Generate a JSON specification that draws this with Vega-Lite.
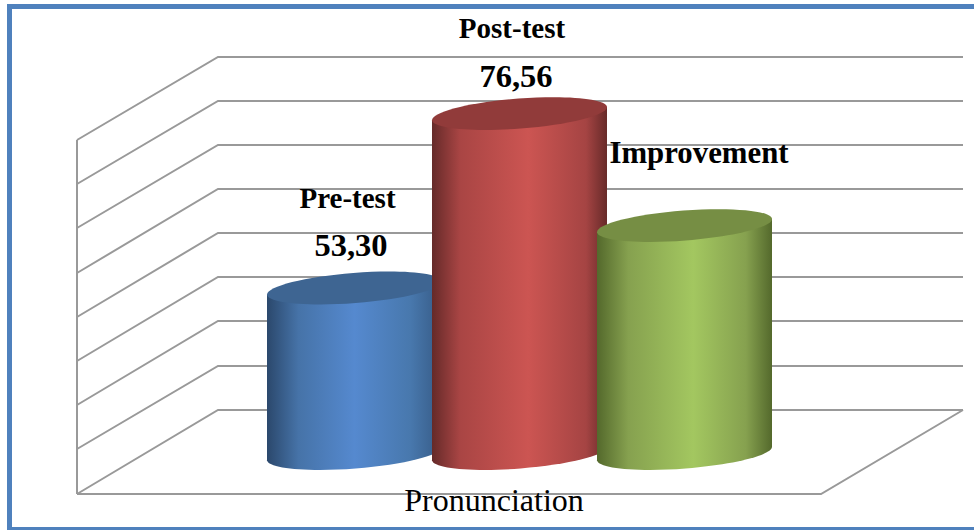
{
"$schema":"https://vega.github.io/schema/vega-lite/v6.json",
"width":974,"height":530,"padding":0,
"autosize":{"type":"fit","contains":"padding"},
"background":"white",
"config":{"view":{"stroke":null}},
"datasets":{
"bars":[
{"test":"Pre-test","x":36.396,"v":53.3,"base":31.233},
{"test":"Post-test","x":53.337,"v":76.56,"base":31.233},
{"test":"Improvement","x":70.277,"v":61.63,"base":31.233}
],
"sides":[
{"test":"Pre-test","x":27.413,"v":52.433,"v0":30.367},
{"test":"Pre-test","x":45.38,"v":54.167,"v0":32.1},
{"test":"Post-test","x":44.353,"v":75.693,"v0":30.367},
{"test":"Post-test","x":62.32,"v":77.427,"v0":32.1},
{"test":"Improvement","x":61.294,"v":60.763,"v0":30.367},
{"test":"Improvement","x":79.261,"v":62.497,"v0":32.1}
],
"walls":[
{"line":"g8","i":0,"x":7.906,"v":73.033},{"line":"g8","i":1,"x":22.382,"v":84.1},{"line":"g8","i":2,"x":98.871,"v":84.1},
{"line":"g7","i":0,"x":7.906,"v":67.167},{"line":"g7","i":1,"x":22.382,"v":78.233},{"line":"g7","i":2,"x":98.871,"v":78.233},
{"line":"g6","i":0,"x":7.906,"v":61.3},{"line":"g6","i":1,"x":22.382,"v":72.367},{"line":"g6","i":2,"x":98.871,"v":72.367},
{"line":"g5","i":0,"x":7.906,"v":55.3},{"line":"g5","i":1,"x":22.382,"v":66.5},{"line":"g5","i":2,"x":98.871,"v":66.5},
{"line":"g4","i":0,"x":7.906,"v":49.433},{"line":"g4","i":1,"x":22.382,"v":60.633},{"line":"g4","i":2,"x":98.871,"v":60.633},
{"line":"g3","i":0,"x":7.906,"v":43.567},{"line":"g3","i":1,"x":22.382,"v":54.767},{"line":"g3","i":2,"x":98.871,"v":54.767},
{"line":"g2","i":0,"x":7.906,"v":37.7},{"line":"g2","i":1,"x":22.382,"v":48.9},{"line":"g2","i":2,"x":98.871,"v":48.9},
{"line":"g1","i":0,"x":7.906,"v":31.833},{"line":"g1","i":1,"x":22.382,"v":42.9},{"line":"g1","i":2,"x":98.871,"v":42.9},
{"line":"g0","i":0,"x":7.906,"v":25.833},{"line":"g0","i":1,"x":22.382,"v":37.033},{"line":"g0","i":2,"x":98.871,"v":37.033},
{"line":"floor","i":0,"x":7.906,"v":25.833},{"line":"floor","i":1,"x":84.292,"v":25.833},{"line":"floor","i":2,"x":98.871,"v":37.033},
{"line":"axis","i":0,"x":7.906,"v":73.033},{"line":"axis","i":1,"x":7.906,"v":25.833}
],
"frame":[
{"line":"frame","i":0,"x":100,"v":90.833},{"line":"frame","i":1,"x":0.975,"v":90.833},{"line":"frame","i":2,"x":0.975,"v":21.1},{"line":"frame","i":3,"x":100,"v":21.1}
],
"names":[
{"label":"Post-test","x":52.567,"v":86.633},
{"label":"Pre-test","x":35.678,"v":63.967}
],
"numbers":[
{"label":"76,56","x":52.977,"v":80.1},
{"label":"53,30","x":36.037,"v":57.567}
],
"improvement":[
{"label":"Improvement","x":71.766,"v":69.967}
],
"axisLabels":[
{"label":"Pronunciation","x":50.719,"v":23.567}
]
},
"encoding":{
"x":{"field":"x","type":"quantitative","axis":null,"scale":{"domain":[0,100],"nice":false,"zero":false}},
"y":{"field":"v","type":"quantitative","axis":null,"scale":{"domain":[21.033,91.7],"nice":false,"zero":false}}
},
"layer":[
{"data":{"name":"frame"},"mark":{"type":"line","stroke":"#4f81bd","strokeWidth":5,"strokeJoin":"miter","clip":true},"encoding":{"order":{"field":"i","type":"quantitative"}}},
{"data":{"name":"walls"},"mark":{"type":"line","stroke":"#999999","strokeWidth":2},"encoding":{"detail":{"field":"line"},"order":{"field":"i","type":"quantitative"}}},

{"data":{"name":"bars"},"transform":[{"filter":"datum.test==='Pre-test'"}],"mark":{"type":"point","filled":true,"opacity":1,"strokeWidth":0,"size":4,"shape":"M-87.49,6.7A87.75,15.16,-4.38,0,0,87.49,-6.7A87.75,15.16,-4.38,0,0,-87.49,6.7Z","fill":{"gradient":"linear","x1":0,"y1":0,"x2":1,"y2":0,"stops":[{"offset":0,"color":"#2b486c"},{"offset":0.18,"color":"#4673a8"},{"offset":0.5,"color":"#5589cf"},{"offset":0.82,"color":"#4878ad"},{"offset":1,"color":"#365a85"}]}},"encoding":{"y":{"field":"base","type":"quantitative","axis":null,"scale":{"domain":[21.033,91.7],"nice":false,"zero":false}}}},
{"data":{"name":"sides"},"transform":[{"filter":"datum.test==='Pre-test'"}],"mark":{"type":"area","fill":{"gradient":"linear","x1":0,"y1":0,"x2":1,"y2":0,"stops":[{"offset":0,"color":"#2b486c"},{"offset":0.18,"color":"#4673a8"},{"offset":0.5,"color":"#5589cf"},{"offset":0.82,"color":"#4878ad"},{"offset":1,"color":"#365a85"}]}},"encoding":{"y2":{"field":"v0"}}},
{"data":{"name":"bars"},"transform":[{"filter":"datum.test==='Pre-test'"}],"mark":{"type":"point","filled":true,"opacity":1,"strokeWidth":0,"size":4,"fill":"#3e6592","shape":"M-87.49,6.7A87.75,15.16,-4.38,0,0,87.49,-6.7A87.75,15.16,-4.38,0,0,-87.49,6.7Z"}},

{"data":{"name":"bars"},"transform":[{"filter":"datum.test==='Post-test'"}],"mark":{"type":"point","filled":true,"opacity":1,"strokeWidth":0,"size":4,"shape":"M-87.49,6.7A87.75,15.16,-4.38,0,0,87.49,-6.7A87.75,15.16,-4.38,0,0,-87.49,6.7Z","fill":{"gradient":"linear","x1":0,"y1":0,"x2":1,"y2":0,"stops":[{"offset":0,"color":"#652a29"},{"offset":0.16,"color":"#a94544"},{"offset":0.55,"color":"#cc5552"},{"offset":0.88,"color":"#a54443"},{"offset":1,"color":"#672a29"}]}},"encoding":{"y":{"field":"base","type":"quantitative","axis":null,"scale":{"domain":[21.033,91.7],"nice":false,"zero":false}}}},
{"data":{"name":"sides"},"transform":[{"filter":"datum.test==='Post-test'"}],"mark":{"type":"area","fill":{"gradient":"linear","x1":0,"y1":0,"x2":1,"y2":0,"stops":[{"offset":0,"color":"#652a29"},{"offset":0.16,"color":"#a94544"},{"offset":0.55,"color":"#cc5552"},{"offset":0.88,"color":"#a54443"},{"offset":1,"color":"#672a29"}]}},"encoding":{"y2":{"field":"v0"}}},
{"data":{"name":"bars"},"transform":[{"filter":"datum.test==='Post-test'"}],"mark":{"type":"point","filled":true,"opacity":1,"strokeWidth":0,"size":4,"fill":"#913b3a","shape":"M-87.49,6.7A87.75,15.16,-4.38,0,0,87.49,-6.7A87.75,15.16,-4.38,0,0,-87.49,6.7Z"}},

{"data":{"name":"bars"},"transform":[{"filter":"datum.test==='Improvement'"}],"mark":{"type":"point","filled":true,"opacity":1,"strokeWidth":0,"size":4,"shape":"M-87.49,6.7A87.75,15.16,-4.38,0,0,87.49,-6.7A87.75,15.16,-4.38,0,0,-87.49,6.7Z","fill":{"gradient":"linear","x1":0,"y1":0,"x2":1,"y2":0,"stops":[{"offset":0,"color":"#54692c"},{"offset":0.18,"color":"#86a14f"},{"offset":0.55,"color":"#a3c760"},{"offset":0.85,"color":"#86a14f"},{"offset":1,"color":"#54692c"}]}},"encoding":{"y":{"field":"base","type":"quantitative","axis":null,"scale":{"domain":[21.033,91.7],"nice":false,"zero":false}}}},
{"data":{"name":"sides"},"transform":[{"filter":"datum.test==='Improvement'"}],"mark":{"type":"area","fill":{"gradient":"linear","x1":0,"y1":0,"x2":1,"y2":0,"stops":[{"offset":0,"color":"#54692c"},{"offset":0.18,"color":"#86a14f"},{"offset":0.55,"color":"#a3c760"},{"offset":0.85,"color":"#86a14f"},{"offset":1,"color":"#54692c"}]}},"encoding":{"y2":{"field":"v0"}}},
{"data":{"name":"bars"},"transform":[{"filter":"datum.test==='Improvement'"}],"mark":{"type":"point","filled":true,"opacity":1,"strokeWidth":0,"size":4,"fill":"#768e44","shape":"M-87.49,6.7A87.75,15.16,-4.38,0,0,87.49,-6.7A87.75,15.16,-4.38,0,0,-87.49,6.7Z"}},

{"data":{"name":"names"},"mark":{"type":"text","font":"Liberation Serif","fontWeight":"bold","fontSize":29,"color":"black","align":"center","baseline":"alphabetic"},"encoding":{"text":{"field":"label"}}},
{"data":{"name":"numbers"},"mark":{"type":"text","font":"Liberation Serif","fontWeight":"bold","fontSize":32.5,"color":"black","align":"center","baseline":"alphabetic"},"encoding":{"text":{"field":"label"}}},
{"data":{"name":"improvement"},"mark":{"type":"text","font":"Liberation Serif","fontWeight":"bold","fontSize":30.8,"color":"black","align":"center","baseline":"alphabetic"},"encoding":{"text":{"field":"label"}}},
{"data":{"name":"axisLabels"},"mark":{"type":"text","font":"Liberation Serif","fontSize":32,"color":"black","align":"center","baseline":"alphabetic"},"encoding":{"text":{"field":"label"}}}
]
}
